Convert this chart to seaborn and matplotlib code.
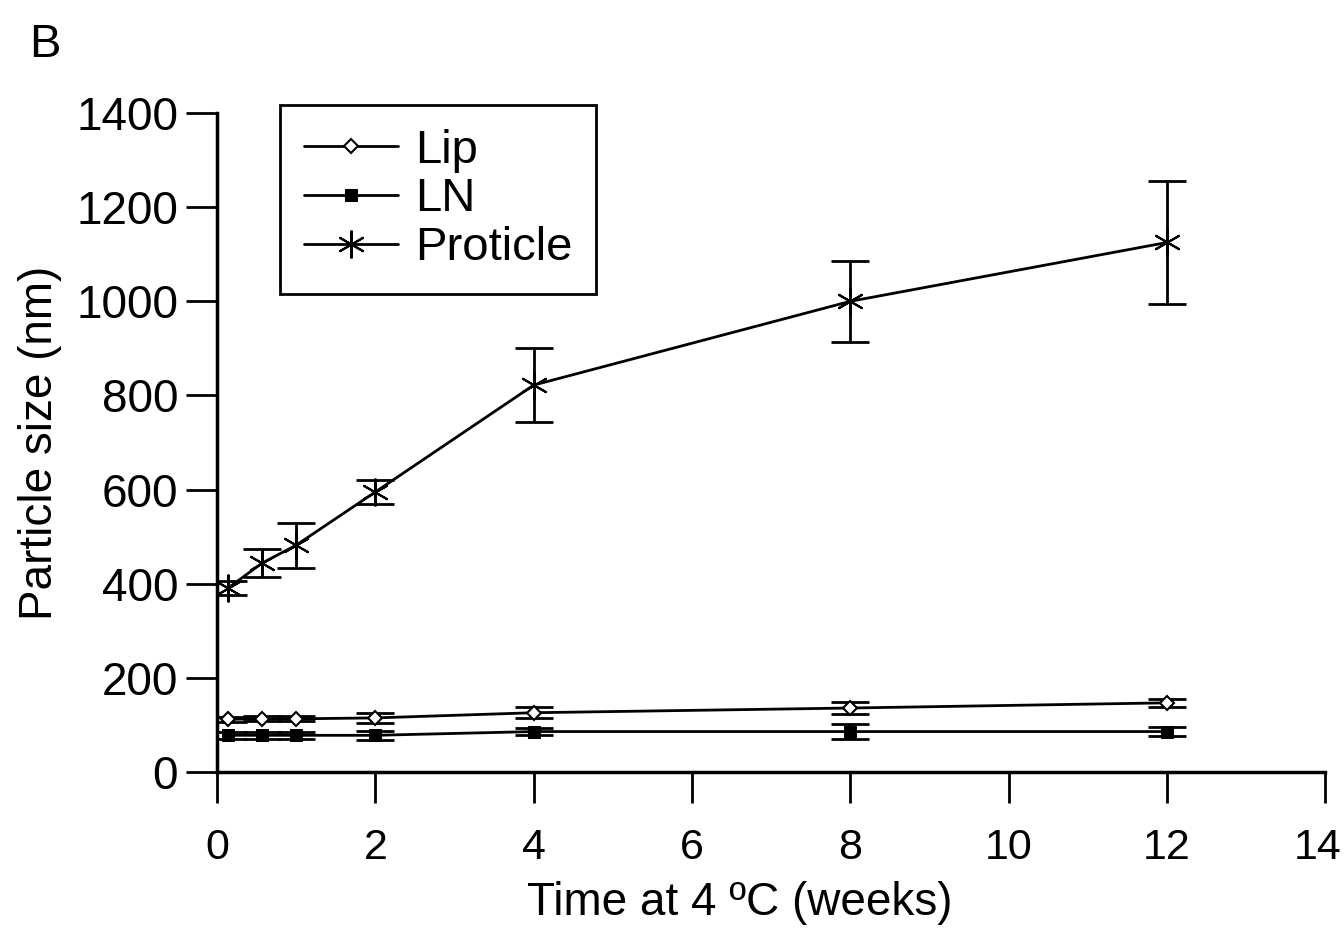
import matplotlib
matplotlib.use("Agg")
import matplotlib.pyplot as plt
import matplotlib.transforms as mtransforms
import seaborn as sns
import pandas as pd

# time points (weeks): 1 day, 4 days, 1, 2, 4, 8, 12 weeks
weeks = [0.14, 0.57, 1, 2, 4, 8, 12]

lip_size = [112, 113, 113, 115, 126, 136, 147]
lip_err = [5, 5, 5, 10, 12, 12, 8]

ln_size = [78, 78, 78, 78, 86, 86, 86]
ln_err = [8, 8, 8, 10, 8, 15, 10]

proticle_size = [391, 444, 482, 595, 822, 1000, 1125]
proticle_err = [15, 30, 48, 25, 78, 86, 130]

series = ["Lip", "LN", "Proticle"]
x_ticks = [0, 2, 4, 6, 8, 10, 12, 14]
y_ticks = [0, 200, 400, 600, 800, 1000, 1200, 1400]

sizes = {"Lip": lip_size, "LN": ln_size, "Proticle": proticle_size}
errs = {"Lip": lip_err, "LN": ln_err, "Proticle": proticle_err}

# marker styles per series
styles = {
    "Lip": dict(marker="D", markersize=7, markerfacecolor="white",
                markeredgecolor="black", markeredgewidth=1.5),
    "LN": dict(marker="s", markersize=8, markerfacecolor="black",
               markeredgecolor="black"),
    "Proticle": dict(marker=(6, 2, 0), markersize=20, markeredgewidth=1.5,
                     markeredgecolor="black"),
}

sns.set_style("ticks")
plt.rcParams["font.family"] = ["Liberation Sans", "DejaVu Sans"]
plt.rcParams["text.color"] = "black"
plt.rcParams["axes.labelcolor"] = "black"

fig = plt.figure(figsize=(13.44, 9.35), dpi=100)
ax = fig.add_axes([0.1615, 0.1743, 0.8245, 0.7048])

for name in series:
    ax.errorbar(weeks, sizes[name], yerr=errs[name], fmt="none",
                ecolor="black", elinewidth=2, capsize=14, capthick=2, zorder=2)
    df = pd.DataFrame({"week": weeks, "size": sizes[name]})
    sns.lineplot(data=df, x="week", y="size", color="black", linewidth=2,
                 label=name, ax=ax, zorder=3, **styles[name])

ax.set_xlim(0, 14)
ax.set_ylim(0, 1400)
ax.set_xticks(x_ticks)
ax.set_yticks(y_ticks)
ax.tick_params(axis="both", direction="out", length=22, width=2, colors="black",
               labelsize=33)
ax.tick_params(axis="x", pad=18, labelsize=31)
ax.tick_params(axis="y", pad=6)
sns.despine(ax=ax)
for sp in ("left", "bottom"):
    ax.spines[sp].set_linewidth(2.5)
    ax.spines[sp].set_color("black")

# nudge the last x label ("14") so it stays inside the canvas
last = ax.get_xticklabels()[-1]
last.set_transform(last.get_transform() +
                   mtransforms.ScaledTranslation(-8 / 100, 0, fig.dpi_scale_trans))

ax.set_xlabel("Time at 4 ºC (weeks)", fontsize=33, color="black")
ax.xaxis.set_label_coords(0.472, -0.165)
ax.set_ylabel("Particle size (nm)", fontsize=33, labelpad=10, color="black")

leg = ax.legend(loc="upper left", bbox_to_anchor=(0.057, 1.012),
                borderaxespad=0, fontsize=34, frameon=True, fancybox=False,
                handlelength=2.0, handletextpad=0.35, labelspacing=0.1,
                borderpad=0.5)
leg.get_frame().set_edgecolor("black")
leg.get_frame().set_linewidth(2)
leg.get_frame().set_alpha(1)
for t in leg.get_texts():
    t.set_color("black")

fig.text(0.022, 0.975, "B", fontsize=34, va="top", ha="left", color="black")

fig.savefig("out.png", dpi=100)
